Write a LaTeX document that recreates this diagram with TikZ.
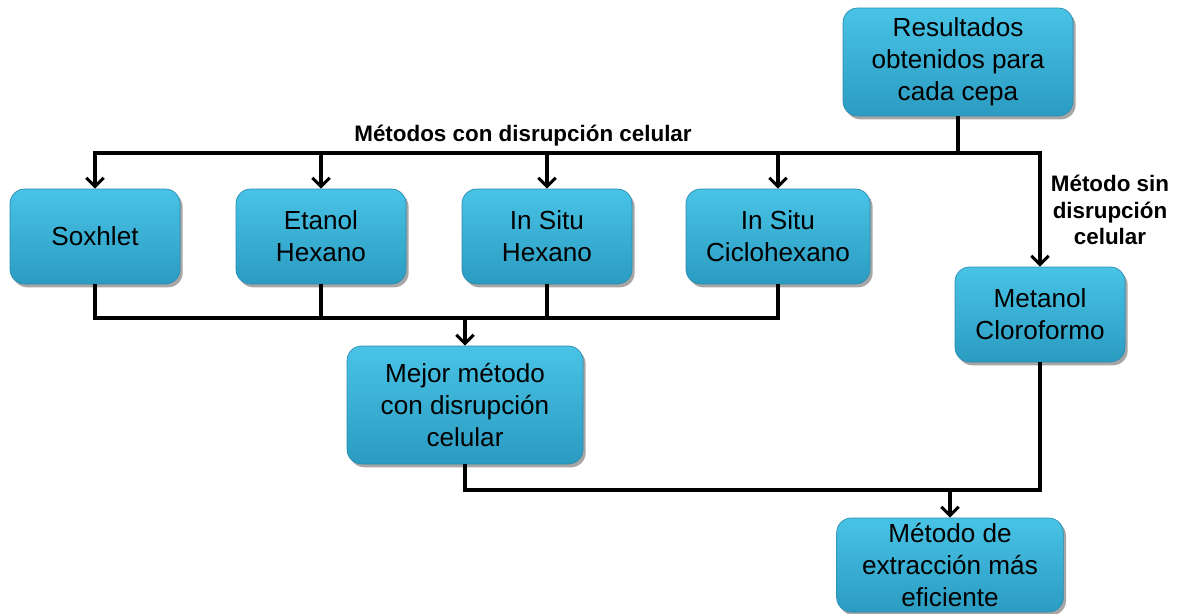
\documentclass[tikz,border=0pt]{standalone}
\usepackage{fontspec}
\setmainfont{Liberation Sans}
\usetikzlibrary{arrows.meta,shadows}
\definecolor{boxtop}{HTML}{48C3E6}
\definecolor{boxbot}{HTML}{2B9BC1}
\definecolor{boxedge}{HTML}{2A8CAE}
\tikzset{
  box/.style={rounded corners=11pt, draw=boxedge, line width=0.5pt,
    top color=boxtop, bottom color=boxbot, align=center, inner sep=0pt,
    font=\fontsize{19.6}{24}\selectfont,
    drop shadow={shadow xshift=2pt, shadow yshift=-2.5pt, opacity=0.35, fill=black}},
  conn/.style={line width=2.3pt, black},
  arr/.style={conn, -{Straight Barb[length=6.5pt,width=13pt,line width=2.3pt]}},
  lbl/.style={font=\bfseries\fontsize{16.8}{19.8}\selectfont, align=center}
}
\begin{document}
\begin{tikzpicture}[x=0.75pt,y=-0.75pt]
\useasboundingbox (0,0) rectangle (1183,614);
\node[box, minimum width=172.5pt, minimum height=81pt] (res) at (958,62) {Resultados\\obtenidos para\\cada cepa};
\node[box, minimum width=127.5pt, minimum height=71.25pt] (sox) at (95,236.5) {Soxhlet};
\node[box, minimum width=127.5pt, minimum height=71.25pt] (eta) at (321,236.5) {Etanol\\Hexano};
\node[box, minimum width=127.5pt, minimum height=71.25pt] (ish) at (547,236.5) {In Situ\\Hexano};
\node[box, minimum width=138pt, minimum height=71.25pt] (isc) at (778,236.5) {In Situ\\Ciclohexano};
\node[box, minimum width=127.5pt, minimum height=71.25pt] (met) at (1040,314.5) {Metanol\\Cloroformo};
\node[box, minimum width=177pt, minimum height=88.5pt] (mej) at (465,405) {Mejor método\\con disrupción\\celular};
\node[box, minimum width=170pt, minimum height=70.5pt] (ext) at (950,565) {Método de\\extracción más\\eficiente};

\node[lbl] (l1) at (523,136) {Métodos con disrupción celular};
\node[lbl] (l2) at (1110,210) {Método sin\\disrupción\\celular};

\coordinate (j1) at (958,153);
\coordinate (j2) at (465,318);
\coordinate (j3) at (950,490);

\draw[conn] (res.south) -- (j1);
\draw[arr] (j1) -| (sox.north);
\draw[arr] (eta.north |- j1) -- (eta.north);
\draw[arr] (ish.north |- j1) -- (ish.north);
\draw[arr] (isc.north |- j1) -- (isc.north);
\draw[arr] (j1) -| (met.north);

\draw[conn] (sox.south) |- (isc.south |- j2) -- (isc.south);
\draw[conn] (eta.south) -- (eta.south |- j2);
\draw[conn] (ish.south) -- (ish.south |- j2);
\draw[arr] (j2) -- (mej.north);

\draw[conn] (mej.south) |- (met.south |- j3) -- (met.south);
\draw[arr] (j3) -- (ext.north);
\end{tikzpicture}
\end{document}
